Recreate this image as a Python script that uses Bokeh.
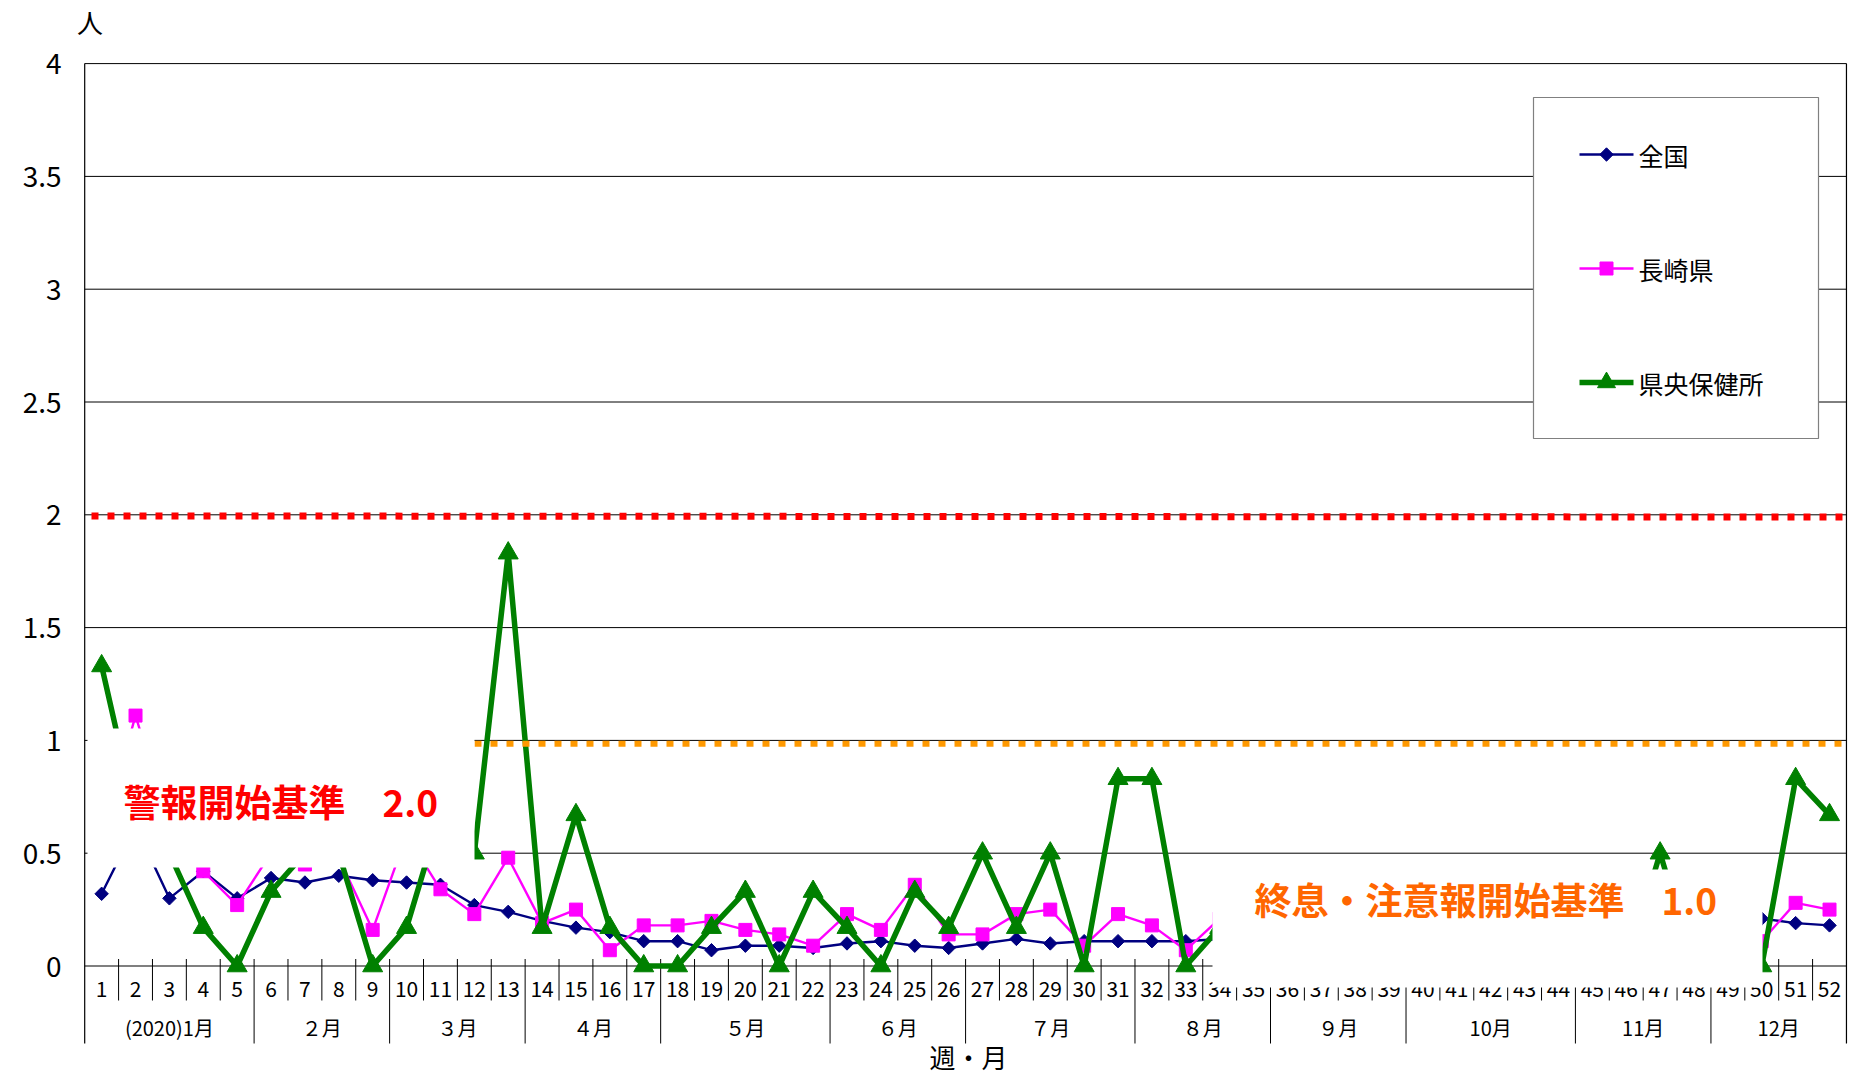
import numpy as np
from bokeh.plotting import figure
from bokeh.models import Range1d
from bokeh.core.properties import value
from bokeh.embed import file_html
from bokeh.resources import INLINE

# ---------------- data ----------------
weeks = list(range(1, 53))
week_labels = [str(w) for w in weeks]

series_names = ["全国", "長崎県", "県央保健所"]

national = [0.32, 0.62, 0.30, 0.42, 0.30, 0.39, 0.37, 0.40, 0.38, 0.37,
            0.36, 0.27, 0.24, 0.20, 0.17, 0.15, 0.11, 0.11, 0.07, 0.09,
            0.09, 0.08, 0.10, 0.11, 0.09, 0.08, 0.10, 0.12, 0.10, 0.11,
            0.11, 0.11, 0.11, 0.12, 0.11, 0.10, 0.10, 0.09, 0.09, 0.09,
            0.10, 0.10, 0.11, 0.12, 0.13, 0.14, 0.16, 0.18, 0.20, 0.21,
            0.19, 0.18]

nagasaki = [0.57, 1.11, 0.62, 0.42, 0.27, 0.50, 0.45, 0.48, 0.16, 0.58,
            0.34, 0.23, 0.48, 0.19, 0.25, 0.07, 0.18, 0.18, 0.20, 0.16,
            0.14, 0.09, 0.23, 0.16, 0.36, 0.14, 0.14, 0.23, 0.25, 0.09,
            0.23, 0.18, 0.07, 0.21, 0.14, 0.11, 0.09, 0.07, 0.09, 0.05,
            0.07, 0.05, 0.09, 0.07, 0.11, 0.09, 0.14, 0.11, 0.09, 0.11,
            0.28, 0.25]

kenou = [1.33, 0.67, 0.50, 0.17, 0.00, 0.33, 0.50, 0.50, 0.00, 0.17,
         0.67, 0.50, 1.83, 0.17, 0.67, 0.17, 0.00, 0.00, 0.17, 0.33,
         0.00, 0.33, 0.17, 0.00, 0.33, 0.17, 0.50, 0.17, 0.50, 0.00,
         0.83, 0.83, 0.00, 0.17, 0.00, 0.00, 0.00, 0.00, 0.00, 0.00,
         0.00, 0.00, 0.00, 0.00, 0.00, 0.00, 0.50, 0.00, 0.00, 0.00,
         0.83, 0.67]

month_labels = ["(2020)1月", "２月", "３月", "４月", "５月", "６月",
                "７月", "８月", "９月", "10月", "11月", "12月"]
month_first_week = [1, 6, 10, 14, 18, 23, 27, 32, 36, 40, 45, 49]
month_last_week = [5, 9, 13, 17, 22, 26, 31, 35, 39, 44, 48, 52]

y_ticks = [0, 0.5, 1, 1.5, 2, 2.5, 3, 3.5, 4]
y_tick_labels = ["0", "0.5", "1", "1.5", "2", "2.5", "3", "3.5", "4"]

alert_level = 2.0
end_level = 1.0
alert_text = "警報開始基準　2.0"
end_text = "終息・注意報開始基準　1.0"

# ---------------- layout helpers (reference pixel -> data) ----------------
XL, WW = 84.2, 33.88      # left edge of week 1 (px), width of one week (px)
Y0, PPU = 965.5, 225.6    # pixel of value 0, pixels per unit
OFF = 0                   # canvas offset on the page
W, H = 1850, 1076


def rx(px):
    return 0.5 + (px - XL) / WW


def ry(px):
    return (Y0 - px) / PPU


FONT = value("Noto Sans CJK JP")
NAVY, MAGENTA, GREEN = "#000080", "#FF00FF", "#008000"

p = figure(width=W, height=H,
           x_range=Range1d(rx(OFF), rx(OFF + W)),
           y_range=Range1d(ry(OFF + H), ry(OFF)),
           output_backend="svg", toolbar_location=None,
           x_axis_location=None, y_axis_location=None,
           title_location=None, min_border=0)
p.outline_line_color = None
p.background_fill_color = "white"
p.border_fill_color = "white"
p.grid.visible = False

x_first = 0.5
x_last = len(weeks) + 0.5

# gridlines (incl. top border)
grid_vals = [v for v in y_ticks if v > 0]
p.segment(x0=[x_first] * len(grid_vals), y0=grid_vals,
          x1=[x_last] * len(grid_vals), y1=grid_vals,
          line_color="#000000", line_width=1)

# frame / axis lines
y_month_bottom = ry(1043)
y_week_bottom = ry(1000)
y_sep_top = ry(958.5)
p.segment(x0=[x_first, x_last, x_first], y0=[4, 4, 0],
          x1=[x_first, x_last, x_last], y1=[y_month_bottom, y_month_bottom, 0],
          line_color="#000000", line_width=1.2)

# week separators and month separators
month_bounds = [w + 0.5 for w in month_last_week[:-1]]
week_bounds = [w + 0.5 for w in weeks[:-1] if (w + 0.5) not in month_bounds]
p.segment(x0=week_bounds, y0=[y_sep_top] * len(week_bounds),
          x1=week_bounds, y1=[y_week_bottom] * len(week_bounds),
          line_color="#000000", line_width=1)
p.segment(x0=month_bounds, y0=[y_sep_top] * len(month_bounds),
          x1=month_bounds, y1=[y_month_bottom] * len(month_bounds),
          line_color="#000000", line_width=1)

# week labels
p.text(x=weeks, y=[ry(988)] * len(weeks), text=week_labels,
       text_font=FONT, text_font_size=value("21px"), text_color="#000000",
       text_align="center", text_baseline="middle")

# month labels
month_centers = [(a + b) / 2 for a, b in zip(month_first_week, month_last_week)]
p.text(x=month_centers, y=[ry(1027)] * len(month_centers), text=month_labels,
       text_font=FONT, text_font_size=value("20px"), text_color="#000000",
       text_align="center", text_baseline="middle")

# y tick labels
p.text(x=[rx(61)] * len(y_ticks), y=y_ticks, text=y_tick_labels,
       text_font=FONT, text_font_size=value("28px"), text_color="#000000",
       text_align="right", text_baseline="middle")

# axis titles
p.text(x=[rx(89.5)], y=[ry(21)], text=["人"], text_font=FONT,
       text_font_size=value("26px"), text_color="#000000",
       text_align="center", text_baseline="middle")
p.text(x=[rx(968)], y=[ry(1056)], text=["週・月"], text_font=FONT,
       text_font_size=value("26px"), text_color="#000000",
       text_align="center", text_baseline="middle")

# ---------------- series ----------------
p.line(weeks, national, line_color=NAVY, line_width=2.4)
p.scatter(weeks, national, marker="square", angle=np.pi / 4, size=9.5,
          fill_color=NAVY, line_color=NAVY)

p.line(weeks, nagasaki, line_color=MAGENTA, line_width=2.4)
p.scatter(weeks, nagasaki, marker="square", size=13,
          fill_color=MAGENTA, line_color=MAGENTA)

p.line(weeks, kenou, line_color=GREEN, line_width=5.5)
p.scatter(weeks, kenou, marker="triangle", size=20,
          fill_color=GREEN, line_color=GREEN)

# ---------------- threshold lines ----------------
p.line(x=[rx(91), rx(OFF + W)], y=[alert_level - 0.005, alert_level - 0.01],
       line_color="#FF0000", line_width=7, line_dash="7 9", line_cap="butt")
p.line(x=[rx(474), rx(1842)], y=[end_level - 0.015, end_level - 0.015],
       line_color="#FF9900", line_width=6, line_dash="7 9", line_cap="butt")

# ---------------- annotation boxes ----------------
p.quad(left=[rx(87), rx(1212)], right=[rx(474), rx(1762)],
       top=[ry(728), ry(869)], bottom=[ry(867), ry(987)],
       fill_color="white", line_color=None)

p.text(x=[rx(123)], y=[ry(800)], text=[alert_text], text_font=FONT,
       text_font_size=value("37px"), text_font_style="bold",
       text_color="#FF0000", text_align="left", text_baseline="middle")
p.text(x=[rx(1254)], y=[ry(898)], text=[end_text], text_font=FONT,
       text_font_size=value("37px"), text_font_style="bold",
       text_color="#FF6600", text_align="left", text_baseline="middle")

# ---------------- legend ----------------
p.quad(left=[rx(1533)], right=[rx(1818)], top=[ry(97)], bottom=[ry(438)],
       fill_color="white", line_color="#808080", line_width=1.2)
leg_y = [ry(154), ry(268), ry(382)]
leg_colors = [NAVY, MAGENTA, GREEN]
leg_widths = [2.4, 2.4, 5.5]
for yy, c, lw in zip(leg_y, leg_colors, leg_widths):
    p.line(x=[rx(1579), rx(1633)], y=[yy, yy], line_color=c, line_width=lw)
p.scatter(x=[rx(1606)], y=[leg_y[0]], marker="square", angle=np.pi / 4,
          size=9.5, fill_color=NAVY, line_color=NAVY)
p.scatter(x=[rx(1606)], y=[leg_y[1]], marker="square", size=13,
          fill_color=MAGENTA, line_color=MAGENTA)
p.scatter(x=[rx(1606)], y=[leg_y[2]], marker="triangle", size=18,
          fill_color=GREEN, line_color=GREEN)
p.text(x=[rx(1638)] * 3, y=leg_y, text=series_names, text_font=FONT,
       text_font_size=value("25px"), text_color="#000000",
       text_align="left", text_baseline="middle")

open("out.html", "w").write(file_html(p, INLINE))
